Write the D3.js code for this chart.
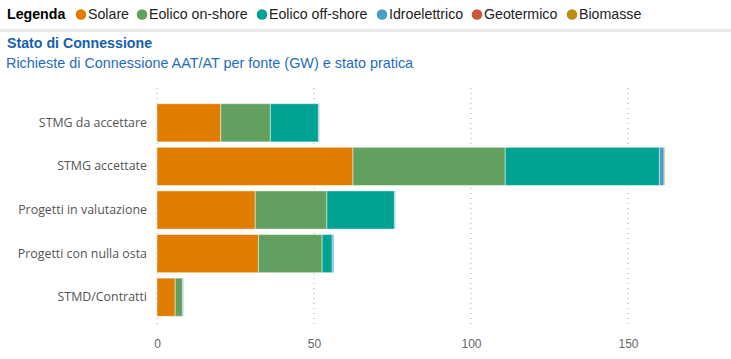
<!DOCTYPE html>
<html><head><meta charset="utf-8">
<script src="https://cdn.jsdelivr.net/npm/d3@7"></script>
<style>
html,body{margin:0;padding:0;background:#fff;}
svg{display:block;}
</style></head>
<body>
<svg id="c" width="731" height="359"></svg>
<script>
const categories = ["STMG da accettare","STMG accettate","Progetti in valutazione","Progetti con nulla osta","STMD/Contratti"];
const seriesNames = ["Solare","Eolico on-shore","Eolico off-shore","Idroelettrico","Geotermico","Biomasse"];
const seriesColors = ["#E07C00","#62A060","#00A393","#4A9EC4","#C95738","#B8900D"];
const solare   = [20.3, 62.4, 31.3, 32.3, 5.8];
const onshore  = [15.8, 48.5, 22.8, 20.3, 2.3];
const offshore = [15.3, 49.1, 21.5, 3.2, 0.0];
const idro     = [0.3, 1.5, 0.3, 0.5, 0.3];
const geo      = [0.0, 0.1, 0.0, 0.0, 0.0];
const bio      = [0.0, 0.2, 0.0, 0.0, 0.0];
const xTicks = [0, 50, 100, 150];

const seriesValues = [solare, onshore, offshore, idro, geo, bio];
const rows = categories.map((c,i)=>{
  const r = {cat:c};
  seriesNames.forEach((s,j)=> r[s] = seriesValues[j][i]);
  return r;
});

const svg = d3.select("#c");
const FONT = "'Liberation Sans',Arial,sans-serif";

// Legend
const lg = svg.append("g").attr("font-family",FONT).attr("font-size",14.2);
lg.append("text").attr("x",7).attr("y",19).attr("font-weight","bold").attr("fill","#000").text("Legenda");
const legX = [81,142,262,382,477,572];
seriesNames.forEach((s,i)=>{
  lg.append("circle").attr("cx",legX[i]).attr("cy",14.5).attr("r",5.3).attr("fill",seriesColors[i]);
  lg.append("text").attr("x",legX[i]+7).attr("y",19).attr("fill","#222").text(s);
});
svg.append("rect").attr("x",0).attr("y",29).attr("width",731).attr("height",3).attr("fill","#e9e9e9");

// Titles
svg.append("text").attr("x",7).attr("y",48).attr("font-family",FONT)
  .attr("font-size",14.2).attr("font-weight","bold").attr("fill","#1560B0").text("Stato di Connessione");
svg.append("text").attr("x",6).attr("y",68).attr("font-family",FONT)
  .attr("font-size",14.4).attr("fill","#1F6DBE").text("Richieste di Connessione AAT/AT per fonte (GW) e stato pratica");

// Scales
const x = d3.scaleLinear().domain([0,150]).range([157,628]);
const y = d3.scaleBand().domain(categories).range([101,319]).paddingInner(0.125).paddingOuter(0.0625);

// Grid
const grid = svg.append("g");
grid.selectAll("line").data(xTicks).join("line")
  .attr("x1",d=>x(d)).attr("x2",d=>x(d)).attr("y1",88).attr("y2",326)
  .attr("stroke","#aaaaaa").attr("stroke-width",1).attr("stroke-dasharray","1,4");

// Bars
const stack = d3.stack().keys(seriesNames)(rows);
const bars = svg.append("g");
stack.forEach((layer,j)=>{
  bars.append("g").attr("fill",seriesColors[j]).selectAll("rect").data(layer).join("rect")
    .attr("x",d=>x(d[0])).attr("y",d=>y(d.data.cat))
    .attr("width",d=>Math.max(0,x(d[1])-x(d[0])))
    .attr("height",y.bandwidth())
    .attr("stroke","rgba(255,255,255,0.45)").attr("stroke-width",1);
});

// Y axis labels
const ya = svg.append("g").attr("transform","translate(147,0)")
  .call(d3.axisLeft(y).tickSize(0).tickPadding(0));
ya.select(".domain").remove();
ya.selectAll("text").attr("font-family","'Open Sans','Noto Sans',sans-serif").attr("font-size",12.4).attr("fill","#555");

// X axis labels
const xa = svg.append("g").attr("transform","translate(0,337)")
  .call(d3.axisBottom(x).tickValues(xTicks).tickSize(0).tickPadding(0));
xa.select(".domain").remove();
xa.selectAll("text").attr("font-family",FONT).attr("font-size",12).attr("fill","#666").attr("dy","0.9em");
</script>
</body></html>
